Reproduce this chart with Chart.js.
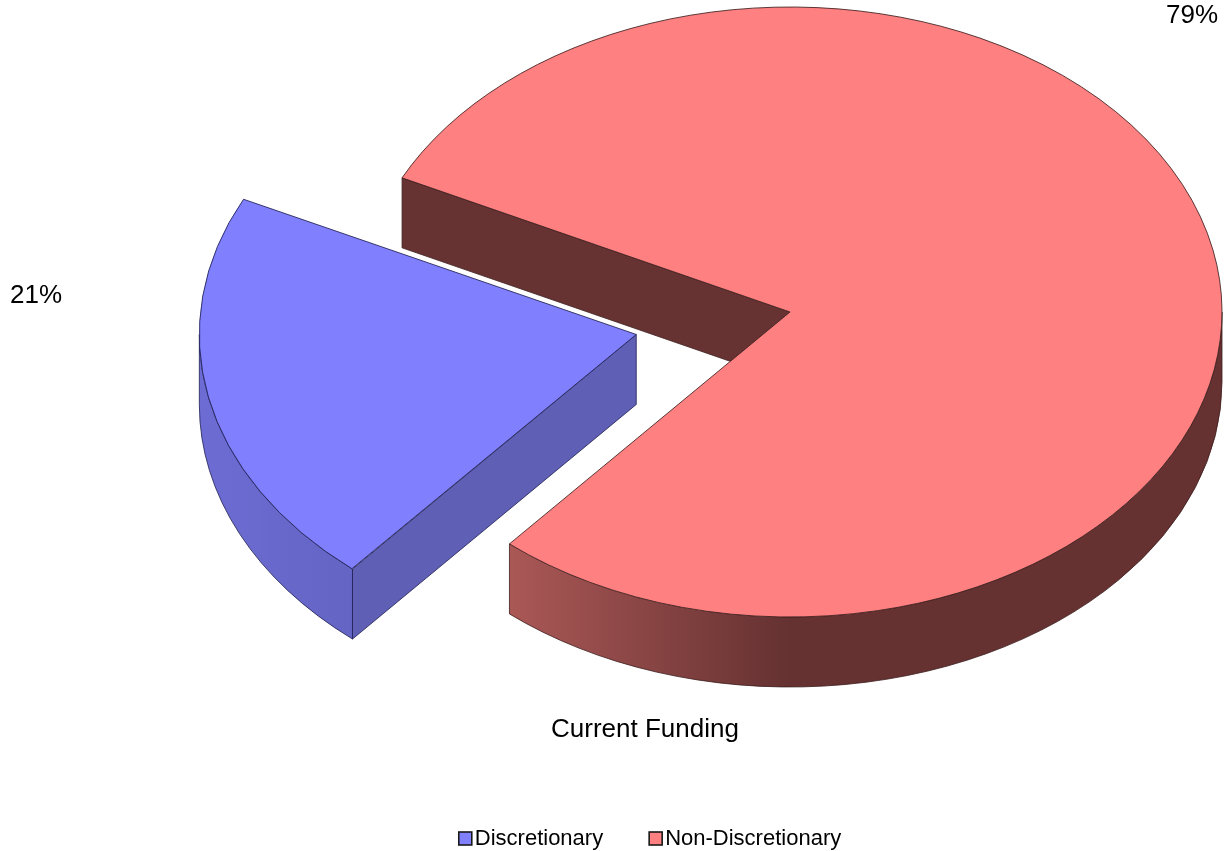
<!DOCTYPE html>
<html lang="en">
<head>
<meta charset="UTF-8">
<title>Current Funding</title>
<script src="https://cdn.jsdelivr.net/npm/chart.js"></script>
<style>
  html, body { margin: 0; padding: 0; background: #fff; }
  #wrap { position: relative; width: 1225px; height: 851px; }
</style>
</head>
<body>
<div id="wrap"><canvas id="fundingChart"></canvas></div>
<script>
const categories = ['Discretionary', 'Non-Discretionary'];
const shares = [21, 79];
const chartTitle = 'Current Funding';

// slice styling
const topColors = ['#8080FF', '#FF8080'];
const edgeColors = ['#1E1E52', '#3E1E1E'];
const wallFlat = ['#5F5FB5', '#663232'];
const wallLight = ['#6C6CD4', '#AA5856'];
const wallDark = ['#5656A6', '#653131'];
const explode = [628, 0];           // arc "offset" option, element moves by a quarter of it

const TILT = 0.706;                 // vertical squash of the pie top
const DEPTH = 70;                   // slab thickness in px
const FONT = '"Liberation Sans", Arial, sans-serif';

// centre of the top face for a slice, after the explode shift, in screen px
function arcGeom(arc) {
  const p = arc.getProps(['x', 'y', 'startAngle', 'endAngle', 'outerRadius']);
  const off = (arc.options.offset || 0) / 4;
  const sweep = p.endAngle - p.startAngle;
  const mid = (p.startAngle + p.endAngle) / 2;
  const fix = 1 - Math.sin(Math.min(Math.PI, sweep));
  return {
    x: p.x + Math.cos(mid) * off,
    y: p.y + Math.sin(mid) * off * TILT,
    r: p.outerRadius + off * fix,
    a0: p.startAngle,
    a1: p.endAngle
  };
}

function drawWalls(ctx, g, i) {
  const { x, y, r, a0, a1 } = g;
  if (!isFinite(r)) return;
  const ry = r * TILT;
  ctx.lineWidth = 0.8;
  ctx.strokeStyle = edgeColors[i];

  // flat cut faces, only the ones turned towards the viewer
  [[a0, a0 - Math.PI / 2], [a1, a1 + Math.PI / 2]].forEach(([a, n]) => {
    if (Math.sin(n) <= 0) return;
    const ex = x + r * Math.cos(a), ey = y + ry * Math.sin(a);
    ctx.beginPath();
    ctx.moveTo(x, y);
    ctx.lineTo(ex, ey);
    ctx.lineTo(ex, ey + DEPTH);
    ctx.lineTo(x, y + DEPTH);
    ctx.closePath();
    ctx.fillStyle = wallFlat[i];
    ctx.fill();
    ctx.stroke();
  });

  // curved rim, front half only
  for (let k = -1; k <= 2; k++) {
    const lo = Math.max(a0, k * 2 * Math.PI);
    const hi = Math.min(a1, k * 2 * Math.PI + Math.PI);
    if (hi <= lo) continue;
    const xl = x + r * Math.cos(hi);
    const grad = ctx.createLinearGradient(xl, 0, x, 0);
    grad.addColorStop(0, wallLight[i]);
    grad.addColorStop(1, wallDark[i]);
    ctx.beginPath();
    ctx.ellipse(x, y, r, ry, 0, lo, hi, false);
    ctx.lineTo(xl, y + ry * Math.sin(hi) + DEPTH);
    ctx.ellipse(x, y + DEPTH, r, ry, 0, hi, lo, true);
    ctx.closePath();
    ctx.fillStyle = grad;
    ctx.fill();
    ctx.stroke();
  }
}

const pie3d = {
  id: 'pie3d',
  beforeDatasetsDraw(chart) {
    const ctx = chart.ctx;
    const arcs = chart.getDatasetMeta(0).data;
    ctx.save();
    arcs.forEach((arc, i) => drawWalls(ctx, arcGeom(arc), i));
    ctx.restore();
    // squash the library's round pie into the tilted top face
    const cy = arcs[0].y;
    ctx.save();
    ctx.translate(0, cy);
    ctx.scale(1, TILT);
    ctx.translate(0, -cy);
  },
  afterDatasetsDraw(chart) {
    chart.ctx.restore();
  }
};

// percentage labels, title under the pie and the legend row
const labelAt = [[36, 303], [1192, 23]];
const annotations = {
  id: 'annotations',
  afterDraw(chart) {
    const ctx = chart.ctx;
    const total = shares.reduce((s, v) => s + v, 0);
    ctx.save();
    ctx.fillStyle = '#000';
    ctx.textBaseline = 'alphabetic';
    ctx.textAlign = 'center';
    ctx.font = '26px ' + FONT;
    shares.forEach((v, i) => {
      ctx.fillText(Math.round(v / total * 100) + '%', labelAt[i][0], labelAt[i][1]);
    });
    ctx.fillText(chartTitle, 645, 737);

    ctx.font = '22px ' + FONT;
    ctx.textAlign = 'left';
    const box = 13, gap = 3, spread = 46;
    const widths = categories.map(c => ctx.measureText(c).width);
    const full = widths.reduce((s, w) => s + box + gap + w, 0) + spread * (categories.length - 1);
    let x = 650 - full / 2;
    const base = 845;
    categories.forEach((c, i) => {
      ctx.fillStyle = topColors[i];
      ctx.fillRect(x, base - box, box, box);
      ctx.lineWidth = 1.6;
      ctx.strokeStyle = '#1a1a1a';
      ctx.strokeRect(x, base - box, box, box);
      ctx.fillStyle = '#000';
      ctx.fillText(c, x + box + gap, base);
      x += box + gap + widths[i] + spread;
    });
    ctx.restore();
  }
};

new Chart(document.getElementById('fundingChart'), {
  type: 'pie',
  data: {
    labels: categories,
    datasets: [{
      data: shares,
      backgroundColor: topColors,
      borderColor: edgeColors,
      borderWidth: 1,
      offset: explode,
      clip: 1000
    }]
  },
  options: {
    responsive: true,
    maintainAspectRatio: false,
    animation: false,
    events: [],
    rotation: 220.5,
    radius: 432,
    cutout: '0%',
    layout: { padding: { left: 355, right: 0, top: 0, bottom: 227 } },
    plugins: {
      legend: { display: false },
      tooltip: { enabled: false }
    }
  },
  plugins: [pie3d, annotations]
});
</script>
</body>
</html>
